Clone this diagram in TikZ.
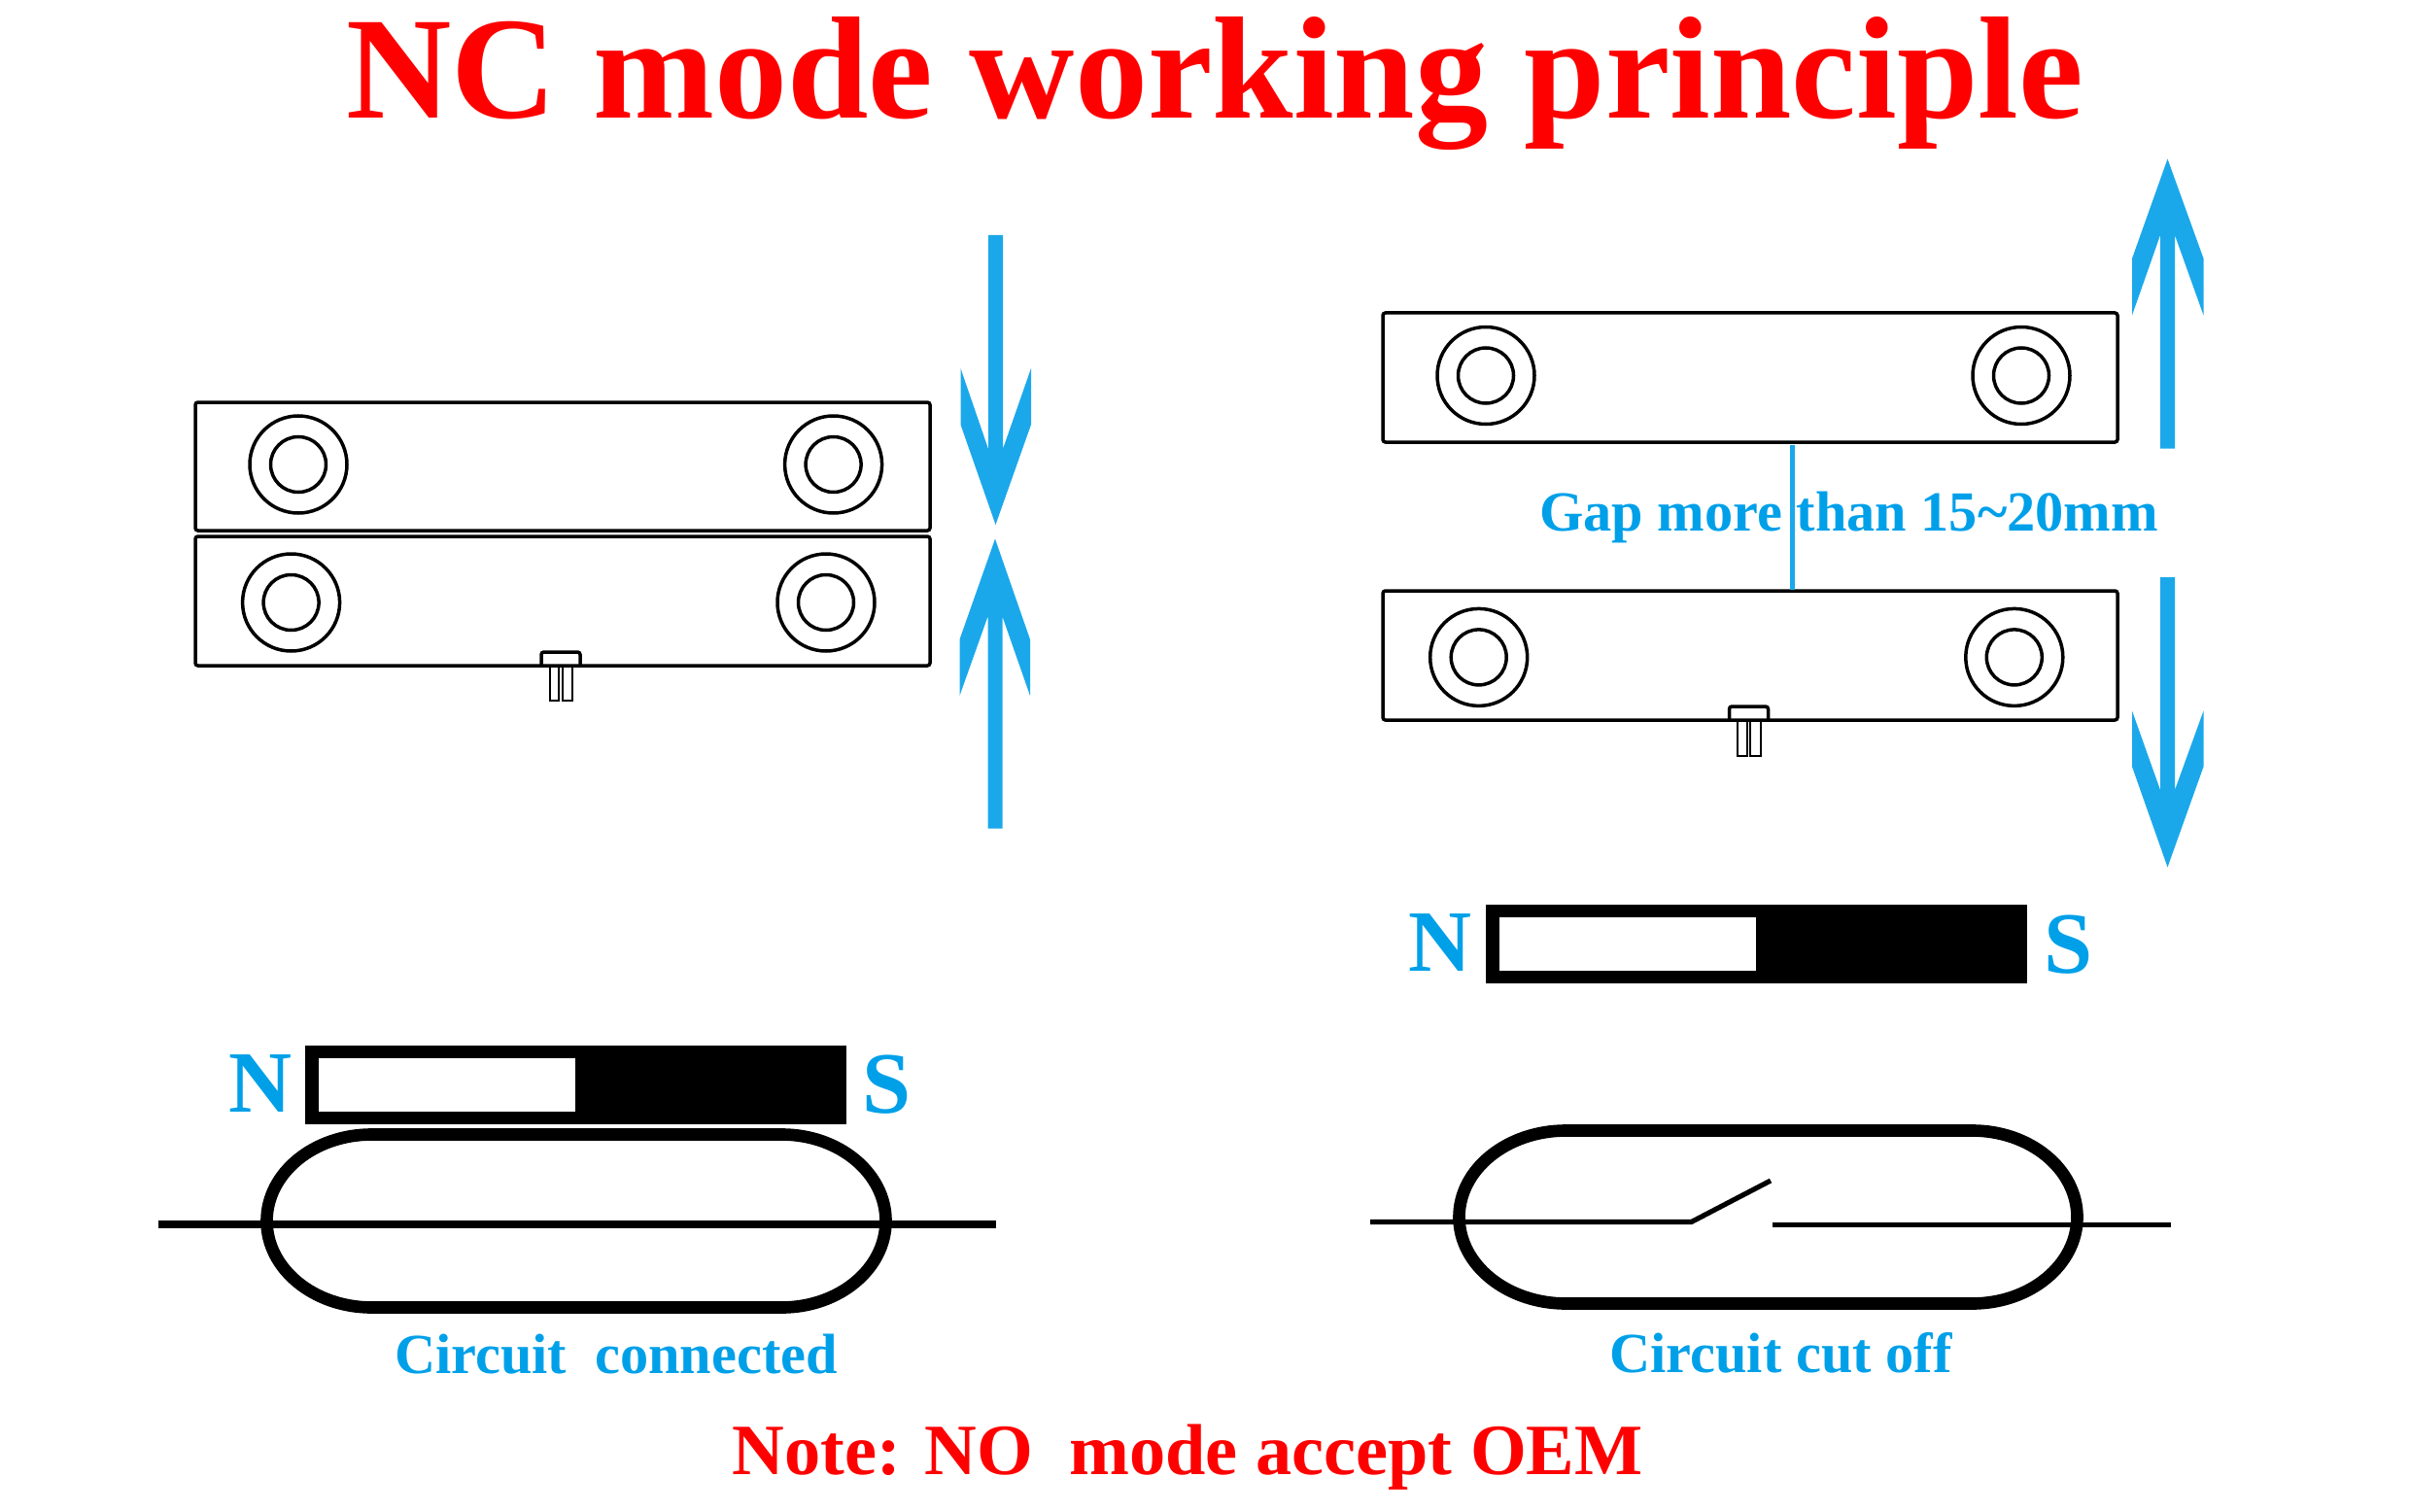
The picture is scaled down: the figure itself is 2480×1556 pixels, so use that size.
\documentclass[tikz,border=0pt]{standalone}
\usepackage{fontspec}
\setmainfont{Liberation Serif}
\definecolor{arrowblue}{RGB}{27,168,235}
\definecolor{textblue}{RGB}{0,160,233}

\begin{document}
\begin{tikzpicture}[
  x=0.3pt, y=-0.3pt,
  bar/.style={draw, line width=1.05pt, rounded corners=0.8pt},
  hole/.style={draw, line width=1.05pt},
  pin/.style={draw, line width=0.6pt},
  reed/.style={draw, line width=3.8pt},
  wire/.style={draw, line width=2.4pt},
  thinwire/.style={draw, line width=1.55pt},
  lbl/.style={inner sep=0pt, anchor=base, font=\bfseries\fontsize{17.5}{17.5}\selectfont, text=textblue},
  pole/.style={inner sep=0pt, anchor=base, font=\bfseries\fontsize{27}{27}\selectfont, text=textblue},
  redlbl/.style={inner sep=0pt, anchor=base, text=red}
]
  \useasboundingbox (0,0) rectangle (2480,1556);

  \node[redlbl, font=\bfseries\fontsize{45}{45}\selectfont] (title) at (1250,122) {NC mode working principle};
  \node[redlbl, font=\bfseries\fontsize{22.3}{22.3}\selectfont] (note)  at (1222,1517) {Note: NO\ \ mode accept OEM};

  % sensor bars
  \draw[bar] (201,414) rectangle (957,546);
  \draw[bar] (201,552) rectangle (957,685);
  \draw[bar] (1423,322) rectangle (2179,455);
  \draw[bar] (1423,608) rectangle (2179,741);
  \foreach \cx/\cy in {307/478,857.6/478,299.6/620,850/620,1529/386.5,2080/386.5,1521.7/676.4,2072.8/676.4} {
    \draw[hole] (\cx,\cy) circle[radius=50];
    \draw[hole] (\cx,\cy) circle[radius=28.5];
  }

  % terminals
  \draw[bar] (557,685) -- (557,671) -- (597,671) -- (597,685);
  \draw[pin] (566,685) rectangle (575,721);
  \draw[pin] (579,685) rectangle (588.5,721);
  \draw[bar] (1779.5,741) -- (1779.5,727) -- (1819.5,727) -- (1819.5,741);
  \draw[pin] (1788,741) rectangle (1797.5,777.5);
  \draw[pin] (1801,741) rectangle (1811.5,777.5);

  % movement arrows
  \fill[arrowblue] (1017,242) -- (1032,242) -- (1032,462) -- (1061,379) -- (1061,437) -- (1024.5,540)
    -- (988.5,437) -- (988.5,379) -- (1017,462) -- cycle;
  \fill[arrowblue] (1016.5,852.5) -- (1031.5,852.5) -- (1031.5,634.5) -- (1060,716) -- (1060,658) -- (1024,554.5)
    -- (987.5,658) -- (987.5,716) -- (1016.5,634.5) -- cycle;
  \fill[arrowblue] (2223,461.5) -- (2238,461.5) -- (2238,242) -- (2267.5,324.5) -- (2267.5,266) -- (2230.5,163.5)
    -- (2194,266) -- (2194,324.5) -- (2223,242) -- cycle;
  \fill[arrowblue] (2223,594) -- (2238,594) -- (2238,813) -- (2267.5,731.5) -- (2267.5,789) -- (2230.5,892.5)
    -- (2194,789) -- (2194,731.5) -- (2223,813) -- cycle;

  % gap mark
  \coordinate (gaptop) at (1844.5,458);
  \coordinate (gapbot) at (1844.5,607);
  \draw[arrowblue, line width=1.5pt] (gaptop) -- (gapbot);
  \node[lbl] (gap) at (1902.5,546.5) {Gap more than 15\textasciitilde20mm};

  % magnets
  \fill (314,1076) rectangle (870.5,1157);
  \fill[white] (327.5,1089) rectangle (591.5,1144);
  \fill (1529,931) rectangle (2085.5,1012);
  \fill[white] (1542.5,944) rectangle (1806.5,999);
  \node[pole] (nleft)  at (267.5,1144) {N};
  \node[pole] (sleft)  at (912.5,1145) {S};
  \node[pole] (nright) at (1482,999) {N};
  \node[pole] (sright) at (2129,1001) {S};

  % reed switches
  \draw[reed] (382.5,1167.5) -- (804.5,1167.5) arc[start angle=-90, end angle=90, x radius=107, y radius=89]
    -- (382.5,1345.5) arc[start angle=90, end angle=270, x radius=108, y radius=89] -- cycle;
  \draw[wire] (162.5,1260) -- (1025,1260);
  \draw[reed] (1611.5,1163.5) -- (2029.5,1163.5) arc[start angle=-90, end angle=90, x radius=108, y radius=89]
    -- (1611.5,1341.5) arc[start angle=90, end angle=270, x radius=110, y radius=89] -- cycle;
  \draw[thinwire] (1410,1257.5) -- (1740.5,1257.5) -- (1822,1215);
  \draw[thinwire] (1824,1260.5) -- (2234,1260.5);

  \node[lbl] (closed) at (634,1413) {Circuit\ \ connected};
  \node[lbl] (open)   at (1832.5,1412) {Circuit cut off};
\end{tikzpicture}
\end{document}
